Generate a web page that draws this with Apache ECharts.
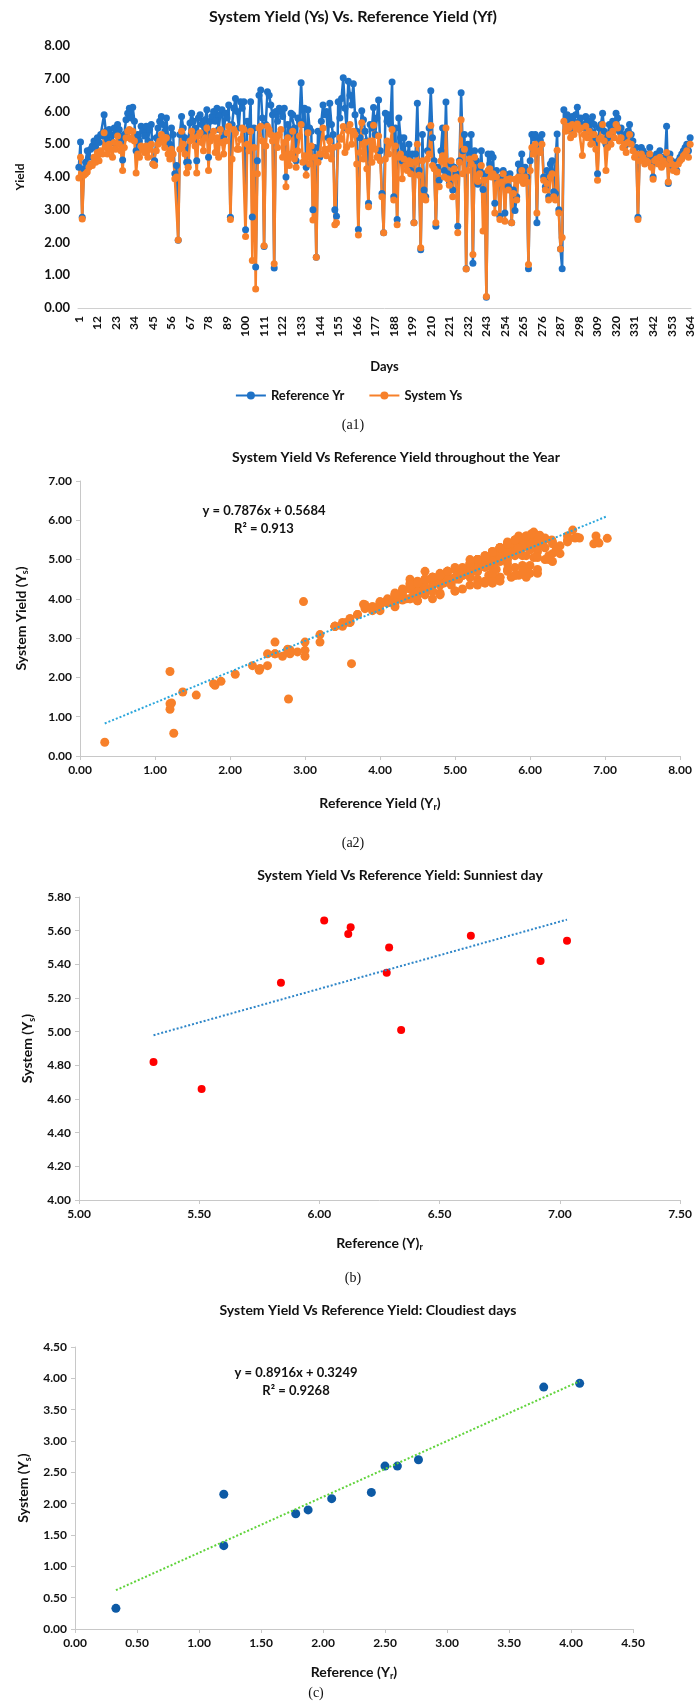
<!DOCTYPE html>
<html><head><meta charset="utf-8">
<script src="https://cdn.jsdelivr.net/npm/echarts/dist/echarts.min.js"></script>
<style>html,body{margin:0;padding:0;background:#fff}#c{width:697px;height:1702px}</style>
</head><body><div id="c"></div>
<script>
// ---------- DATA ----------
// Panel (a1): daily reference yield (Yr) and system yield (Ys), days 1..364
const refYr = [
4.30,5.07,2.77,4.25,4.45,4.80,4.60,4.85,4.95,5.10,
4.90,5.20,5.05,5.30,5.25,5.90,5.40,5.15,5.45,5.30,
5.05,5.50,5.30,5.60,5.45,5.20,4.52,5.30,5.75,5.95,
6.10,5.80,6.13,5.70,4.80,5.30,5.10,5.55,5.40,5.25,
5.55,5.10,5.45,5.60,4.40,4.50,5.20,5.50,5.70,5.85,
5.60,5.40,5.80,5.20,5.00,5.50,5.30,4.10,4.35,2.07,
5.30,5.85,5.50,5.20,4.45,4.45,5.65,5.95,5.70,5.50,
4.50,5.80,5.90,5.60,5.30,5.75,6.05,4.60,5.70,5.85,
6.00,5.70,6.10,5.45,5.90,6.05,5.20,5.95,5.80,6.20,
2.77,5.60,6.10,6.40,6.00,5.50,6.30,6.10,6.30,2.39,
5.70,5.40,6.30,2.78,5.50,1.25,4.50,6.50,6.66,5.80,
1.88,5.60,6.60,6.50,6.20,5.90,1.22,6.00,5.70,6.10,
6.00,5.85,6.10,4.00,5.60,5.30,5.95,5.90,5.50,4.50,
5.80,5.70,6.88,5.60,6.10,4.30,6.05,5.50,5.40,3.00,
4.90,1.55,5.40,4.60,5.70,6.20,5.90,6.00,5.20,6.25,
5.60,5.30,3.00,2.80,6.30,5.80,6.40,7.03,6.10,5.50,
6.92,6.50,6.20,6.85,5.90,5.40,2.40,5.20,6.02,5.75,
5.40,5.10,3.20,5.60,5.50,6.12,5.30,5.80,6.35,4.80,
3.50,2.30,5.95,5.70,5.90,5.60,6.90,3.40,5.50,2.70,
5.80,5.20,4.50,5.20,4.70,4.50,5.00,4.20,4.70,2.60,
4.70,6.25,4.20,1.78,5.30,3.60,3.40,4.80,5.50,6.63,
5.20,4.50,2.50,4.30,3.90,4.80,5.50,4.20,6.29,4.10,
3.80,4.40,3.60,4.30,4.10,2.50,4.50,6.57,4.80,5.30,
1.20,5.00,4.70,5.30,1.37,4.80,4.50,3.78,4.20,4.80,
3.62,4.10,0.33,4.70,4.40,4.70,4.60,3.20,4.20,3.90,
2.80,4.00,4.20,2.90,4.07,3.70,4.10,2.60,3.60,2.98,
3.40,4.40,4.20,4.70,3.90,4.30,4.00,1.20,4.50,5.30,
5.20,5.30,2.60,5.20,5.10,5.30,4.00,3.70,4.20,3.40,
4.40,4.50,3.55,3.50,5.31,3.00,1.80,1.20,6.05,5.70,
5.90,5.80,5.50,5.85,5.60,5.90,6.13,5.70,5.80,5.51,
5.60,5.85,5.50,5.70,5.40,5.84,5.60,5.20,4.10,5.50,
5.60,5.95,5.40,5.00,5.20,5.60,5.30,5.70,5.50,5.95,
5.80,5.40,5.50,5.20,5.30,5.00,5.40,5.60,5.30,5.10,
4.80,4.90,2.77,4.70,4.90,4.80,4.50,4.70,4.60,4.90,
4.40,4.00,4.60,4.70,4.50,4.80,4.40,4.60,4.50,5.55,
3.80,4.70,4.50,4.30,4.40,4.20,4.50,4.60,4.70,4.80,
4.90,5.00,4.80,5.20
];
const sysYs = [
3.97,4.60,2.72,4.05,4.10,4.15,4.30,4.40,4.35,4.60,
4.45,4.75,4.50,4.80,4.70,5.35,4.90,4.70,5.00,4.85,
4.60,5.05,4.85,5.25,5.00,4.80,4.20,4.90,5.20,5.40,
5.45,5.15,5.40,5.10,4.12,4.70,4.60,4.95,4.85,4.75,
4.95,4.60,4.85,5.00,4.40,4.35,4.80,5.00,5.10,5.30,
5.05,4.90,5.20,4.70,4.55,4.85,4.70,3.95,4.00,2.08,
4.85,5.40,5.00,4.70,4.12,4.30,5.10,5.40,5.20,4.95,
4.12,5.25,5.35,5.05,4.80,5.20,5.50,4.20,5.10,5.25,
5.40,4.75,5.20,4.60,5.45,5.05,4.70,5.10,5.35,5.55,
2.70,4.55,5.45,5.35,4.85,4.85,5.15,5.50,5.45,2.18,
5.00,4.80,5.40,1.45,4.90,0.58,4.10,5.50,5.55,5.10,
1.90,4.95,5.55,5.45,5.30,5.10,1.35,5.25,4.90,5.30,
5.45,4.60,5.05,3.70,5.20,4.35,4.70,5.40,4.55,4.30,
4.80,5.25,5.60,4.45,4.65,4.05,5.35,4.40,4.95,2.69,
4.60,1.55,4.45,4.70,4.70,5.50,4.85,4.65,4.85,5.10,
4.55,4.90,2.54,2.60,4.95,5.20,5.15,5.54,4.75,4.90,
5.42,5.60,5.00,5.40,5.30,4.40,2.23,4.75,5.66,4.55,
5.05,4.25,3.09,5.10,4.45,5.58,4.85,4.60,5.25,4.50,
3.40,2.30,4.55,5.10,4.70,5.05,5.45,3.30,4.95,2.54,
4.60,4.70,3.95,4.55,4.35,4.20,4.50,4.10,4.45,2.60,
4.45,5.00,4.05,1.84,4.50,3.40,3.30,4.55,4.70,5.57,
4.35,4.25,2.60,4.15,3.70,4.50,4.65,4.00,5.50,3.95,
3.75,4.50,3.40,4.25,4.00,2.30,4.45,5.75,4.10,4.85,
1.19,4.20,4.55,4.40,1.63,4.60,3.95,3.86,4.10,4.35,
2.35,3.90,0.35,4.20,4.25,4.00,4.10,2.90,4.00,3.80,
2.70,3.85,4.10,2.65,3.92,3.60,3.95,2.60,3.50,3.93,
3.30,4.00,3.90,4.20,3.80,4.00,3.85,1.33,4.20,4.90,
4.70,5.00,2.90,4.80,4.75,5.00,3.90,3.60,3.80,3.30,
4.00,4.10,3.40,3.30,4.82,2.90,1.80,2.15,5.70,5.40,
5.55,5.50,5.20,5.60,5.30,5.50,5.62,5.45,5.50,4.66,
5.30,5.55,5.20,5.40,5.00,5.29,5.30,4.85,3.90,5.15,
5.20,5.60,5.10,4.20,4.90,5.30,5.00,5.40,5.20,5.60,
5.50,5.10,5.20,4.90,5.00,4.75,5.05,5.30,5.00,4.80,
4.60,4.70,2.70,4.50,4.70,4.60,4.40,4.50,4.45,4.70,
4.30,3.93,4.50,4.55,4.40,4.60,4.30,4.50,4.40,4.75,
3.85,4.55,4.40,4.20,4.35,4.15,4.40,4.50,4.55,4.65,
4.70,4.80,4.60,5.00
];
const dayLabels = refYr.map((_, i) => String(i + 1));

// Panel (a2): trendline shown on chart
const a2Slope = 0.7876, a2Intercept = 0.5684;
const a2EqText = ['y = 0.7876x + 0.5684', 'R² = 0.913'];

// Panel (b): sunniest days
const sunRef = [5.31,5.51,5.84,6.02,6.12,6.13,6.29,6.28,6.34,6.63,6.92,7.03];
const sunSys = [4.82,4.66,5.29,5.66,5.58,5.62,5.50,5.35,5.01,5.57,5.42,5.54];

// Panel (c): cloudiest days
const cloudRef = [0.33,1.20,1.20,1.78,1.88,2.07,2.39,2.50,2.60,2.77,3.78,4.07];
const cloudSys = [0.33,2.15,1.33,1.84,1.90,2.08,2.18,2.60,2.60,2.70,3.86,3.92];
const cSlope = 0.8916, cIntercept = 0.3249;
const cEqText = ['y = 0.8916x + 0.3249', 'R² = 0.9268'];

// ---------- HELPERS ----------
const F = 'Lato, "Open Sans", sans-serif';
const SERIF = '"Liberation Serif", "DejaVu Serif", serif';
const BLUE = '#1f72c6', ORANGE = '#f7802a';
const AXIS = '#c8c8c8', TXT = '#111';
function pairs(xs, ys) { return xs.map((x, i) => [x, ys[i]]); }
function lineFrom(xs, m, b) {
  const lo = Math.min(...xs), hi = Math.max(...xs);
  return [[lo, m * lo + b], [hi, m * hi + b]];
}
function regress(xs, ys) {
  const n = xs.length;
  const mx = xs.reduce((a, v) => a + v, 0) / n, my = ys.reduce((a, v) => a + v, 0) / n;
  let sxy = 0, sxx = 0;
  for (let i = 0; i < n; i++) { sxy += (xs[i] - mx) * (ys[i] - my); sxx += (xs[i] - mx) ** 2; }
  const m = sxy / sxx; return [m, my - m * mx];
}
const fmt2 = v => v.toFixed(2);
const lbl = (size) => ({ fontFamily: F, fontWeight: 'bold', fontSize: size, color: TXT, formatter: fmt2 });
function valAxis(grid, min, max, interval, extra) {
  return Object.assign({
    type: 'value', gridIndex: grid, min, max, interval,
    axisLine: { show: true, lineStyle: { color: AXIS, width: 1 } },
    axisTick: { show: true, length: 4, lineStyle: { color: AXIS } },
    splitLine: { show: false },
    axisLabel: lbl(12)
  }, extra || {});
}
const nameRich = {
  a: { fontFamily: F, fontWeight: 'bold', fontSize: 14, color: TXT, lineHeight: 18 },
  s: { fontFamily: F, fontWeight: 'bold', fontSize: 9, color: TXT, lineHeight: 18, verticalAlign: 'bottom' }
};
const [bSlope, bIntercept] = regress(sunRef, sunSys);

function gtext(x, y, text, font, extra) {
  return Object.assign({ type: 'text', x, y, style: { text, font, fill: TXT, textAlign: 'center', textVerticalAlign: 'middle' } }, extra || {});
}

const chart = echarts.init(document.getElementById('c'), null, { renderer: 'canvas' });
chart.setOption({
  animation: false,
  backgroundColor: '#fff',
  grid: [
    { left: 78, top: 46, width: 613, height: 262, containLabel: false, outerBoundsMode: 'none' },
    { left: 80, top: 481, width: 600, height: 275, containLabel: false, outerBoundsMode: 'none' },
    { left: 79, top: 897, width: 601, height: 303, containLabel: false, outerBoundsMode: 'none' },
    { left: 75, top: 1347, width: 558, height: 282, containLabel: false, outerBoundsMode: 'none' }
  ],
  legend: {
    data: ['Reference Yr', 'System Ys'], top: 384, left: 'center',
    itemWidth: 30, itemHeight: 10, itemGap: 24,
    textStyle: { fontFamily: F, fontWeight: 'bold', fontSize: 13, color: TXT }
  },
  xAxis: [
    { type: 'category', gridIndex: 0, data: dayLabels, boundaryGap: true,
      axisLine: { show: true, lineStyle: { color: '#d0d0d0' } }, axisTick: { show: false },
      axisLabel: { interval: 10, rotate: 90, fontFamily: F, fontWeight: 'bold', fontSize: 12, color: TXT, margin: 8 },
      name: 'Days', nameLocation: 'middle', nameGap: 52,
      nameTextStyle: { fontFamily: F, fontWeight: 'bold', fontSize: 13, color: TXT } },
    valAxis(1, 0, 8, 1, { name: '{a|Reference Yield (Y}{s|r}{a|)}', nameLocation: 'middle', nameGap: 38, nameTextStyle: { rich: nameRich } }),
    valAxis(2, 5, 7.5, 0.5, { name: '{a|Reference (Y)}{s|r}', nameLocation: 'middle', nameGap: 34, nameTextStyle: { rich: nameRich } }),
    valAxis(3, 0, 4.5, 0.5, { name: '{a|Reference (Y}{s|r}{a|)}', nameLocation: 'middle', nameGap: 34, nameTextStyle: { rich: nameRich } })
  ],
  yAxis: [
    { type: 'value', gridIndex: 0, min: 0, max: 8, interval: 1,
      axisLine: { show: false }, axisTick: { show: false }, splitLine: { show: false },
      axisLabel: lbl(13),
      name: 'Yield', nameLocation: 'middle', nameGap: 52,
      nameTextStyle: { fontFamily: F, fontWeight: 'bold', fontSize: 12, color: TXT } },
    valAxis(1, 0, 7, 1, { name: '{a|System Yield (Y}{s|s}{a|)}', nameLocation: 'middle', nameGap: 50, nameTextStyle: { rich: nameRich } }),
    valAxis(2, 4, 5.8, 0.2, { name: '{a|System (Y}{s|s}{a|)}', nameLocation: 'middle', nameGap: 42, nameTextStyle: { rich: nameRich } }),
    valAxis(3, 0, 4.5, 0.5, { name: '{a|System (Y}{s|s}{a|)}', nameLocation: 'middle', nameGap: 42, nameTextStyle: { rich: nameRich } })
  ],
  series: [
    { name: 'Reference Yr', type: 'line', xAxisIndex: 0, yAxisIndex: 0, data: refYr,
      symbol: 'circle', symbolSize: 7, showAllSymbol: true,
      lineStyle: { color: BLUE, width: 2.5 }, itemStyle: { color: BLUE }, emphasis: { disabled: true } },
    { name: 'System Ys', type: 'line', xAxisIndex: 0, yAxisIndex: 0, data: sysYs,
      symbol: 'circle', symbolSize: 7, showAllSymbol: true,
      lineStyle: { color: ORANGE, width: 2.5 }, itemStyle: { color: ORANGE }, emphasis: { disabled: true } },
    { type: 'scatter', xAxisIndex: 1, yAxisIndex: 1, data: pairs(refYr, sysYs),
      symbolSize: 9, itemStyle: { color: ORANGE, opacity: 1 }, emphasis: { disabled: true } },
    { type: 'line', xAxisIndex: 1, yAxisIndex: 1, data: lineFrom(refYr, a2Slope, a2Intercept),
      symbol: 'none', lineStyle: { color: '#2aa6dc', width: 2, type: [2, 2] }, z: 5 },
    { type: 'scatter', xAxisIndex: 2, yAxisIndex: 2, data: pairs(sunRef, sunSys),
      symbolSize: 8, itemStyle: { color: '#ff0000', opacity: 1 }, emphasis: { disabled: true } },
    { type: 'line', xAxisIndex: 2, yAxisIndex: 2, data: lineFrom(sunRef, bSlope, bIntercept),
      symbol: 'none', lineStyle: { color: '#2e86c8', width: 2, type: [2, 2] } },
    { type: 'scatter', xAxisIndex: 3, yAxisIndex: 3, data: pairs(cloudRef, cloudSys),
      symbolSize: 9, itemStyle: { color: '#0d5aa5', opacity: 1 }, emphasis: { disabled: true } },
    { type: 'line', xAxisIndex: 3, yAxisIndex: 3, data: lineFrom(cloudRef, cSlope, cIntercept),
      symbol: 'none', lineStyle: { color: '#5fd33a', width: 2, type: [2, 2] } }
  ],
  graphic: [
    gtext(353, 17, 'System Yield (Ys) Vs. Reference Yield (Yf)', 'bold 16px ' + F),
    gtext(353, 425, '(a1)', '14px ' + SERIF),
    gtext(396, 457, 'System Yield Vs Reference Yield throughout the Year', 'bold 14px ' + F),
    gtext(264, 511, a2EqText[0], 'bold 13px ' + F),
    gtext(264, 529, a2EqText[1], 'bold 13px ' + F),
    gtext(353, 843, '(a2)', '14px ' + SERIF),
    gtext(400, 875, 'System Yield Vs Reference Yield: Sunniest day', 'bold 14px ' + F),
    gtext(353, 1278, '(b)', '14px ' + SERIF),
    gtext(368, 1310, 'System Yield Vs Reference Yield: Cloudiest days', 'bold 14px ' + F),
    gtext(296, 1373, cEqText[0], 'bold 13px ' + F),
    gtext(296, 1391, cEqText[1], 'bold 13px ' + F),
    gtext(316, 1693, '(c)', '14px ' + SERIF)
  ]
});
</script></body></html>
